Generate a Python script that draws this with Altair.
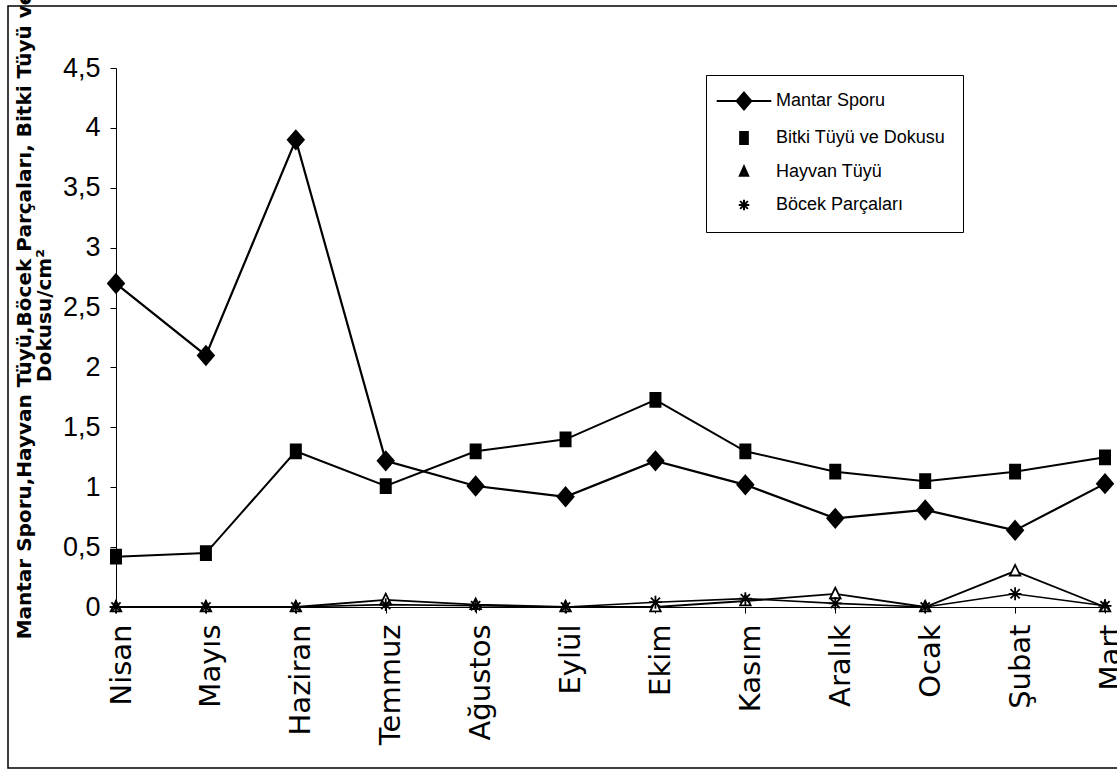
import altair as alt
import pandas as pd

# Monthly counts per cm² for the four particle types
months = ["Nisan", "Mayıs", "Haziran", "Temmuz", "Ağustos", "Eylül",
          "Ekim", "Kasım", "Aralık", "Ocak", "Şubat", "Mart"]
series_names = ["Mantar Sporu", "Bitki Tüyü ve Dokusu", "Hayvan Tüyü", "Böcek Parçaları"]

mantar_sporu = [2.70, 2.10, 3.90, 1.22, 1.01, 0.92, 1.22, 1.02, 0.74, 0.81, 0.64, 1.03]
bitki_tuyu = [0.42, 0.45, 1.30, 1.01, 1.30, 1.40, 1.73, 1.30, 1.13, 1.05, 1.13, 1.25]
hayvan_tuyu = [0.00, 0.00, 0.00, 0.06, 0.02, 0.00, 0.00, 0.05, 0.11, 0.00, 0.30, 0.00]
bocek_parcalari = [0.00, 0.00, 0.00, 0.02, 0.01, 0.00, 0.04, 0.07, 0.03, 0.00, 0.11, 0.01]

y_ticks = [0, 0.5, 1, 1.5, 2, 2.5, 3, 3.5, 4, 4.5]
y_title = ["Mantar Sporu,Hayvan Tüyü,Böcek Parçaları, Bitki Tüyü ve", "Dokusu/cm²"]

rows = []
for name, vals in zip(series_names, [mantar_sporu, bitki_tuyu, hayvan_tuyu, bocek_parcalari]):
    for m, v in zip(months, vals):
        rows.append({"month": m, "series": name, "value": v})
df = pd.DataFrame(rows)

# marker outlines (unit square -1..1, scaled by sqrt(size)/2)
plot_shapes = [
    "M 0 -1.1 L 0.95 0 L 0 1.1 L -0.95 0 Z",
    "M -0.6 -0.82 H 0.6 V 0.82 H -0.6 Z",
    "M 0 -0.72 L 0.62 0.52 L -0.62 0.52 Z",
    "M -0.76 0 L 0.76 0 M 0 -0.76 L 0 0.76 M -0.54 -0.54 L 0.54 0.54 M -0.54 0.54 L 0.54 -0.54",
]
# legend glyphs are stroked only, so solid shapes are built from nested outlines
legend_shapes = [
    "M -3.9 0 L 3.9 0 "
    "M 0 -1.2 L 1.05 0 L 0 1.2 L -1.05 0 Z "
    "M 0 -0.9 L 0.79 0 L 0 0.9 L -0.79 0 Z "
    "M 0 -0.6 L 0.52 0 L 0 0.6 L -0.52 0 Z "
    "M 0 -0.3 L 0.26 0 L 0 0.3 L -0.26 0 Z",
    "M -0.55 -0.85 H 0.55 V 0.85 H -0.55 Z "
    "M -0.27 -0.85 V 0.85 M 0 -0.85 V 0.85 M 0.27 -0.85 V 0.85",
    "M 0 -0.8 L 0.6 0.55 L -0.6 0.55 Z M 0 -0.3 L 0.25 0.35 L -0.25 0.35 Z",
    "M -0.75 0 L 0.75 0 M 0 -0.75 L 0 0.75 M -0.55 -0.55 L 0.55 0.55 M -0.55 0.55 L 0.55 -0.55",
]

x_enc = alt.X(
    "month:N",
    sort=months,
    scale=alt.Scale(domain=months, type="point", padding=0),
    axis=alt.Axis(
        title=None, labelAngle=270, labelFont="DejaVu Sans", labelFontSize=29,
        labelColor="black", labelPadding=11, labelOffset=5, tickSize=6,
        tickColor="black", domainColor="black", labelOverlap=False,
        labelBound=False, labelFlush=False,
    ),
)
y_enc = alt.Y(
    "value:Q",
    scale=alt.Scale(domain=[0, 4.5], nice=False),
    axis=alt.Axis(
        values=y_ticks, grid=False,
        labelExpr="replace(toString(datum.value), '.', ',')",
        labelFont="Liberation Sans", labelFontSize=27, labelColor="black",
        labelPadding=10, tickSize=6, tickColor="black", domainColor="black",
        title=y_title, titleFont="DejaVu Sans", titleFontWeight="bold",
        titleFontSize=20, titleColor="black", titleAngle=270,
        titleAlign="center", titleBaseline="top", titleLineHeight=20,
        titleX=-102, titleY=247,
    ),
)

lines = alt.Chart(df).mark_line(color="black").encode(
    x=x_enc,
    y=y_enc,
    detail="series:N",
    strokeWidth=alt.StrokeWidth(
        "series:N", scale=alt.Scale(domain=series_names, range=[2.2, 1.6, 1.5, 1.5]), legend=None
    ),
)

points = alt.Chart(df).mark_point(size=289, strokeWidth=1.8, opacity=1).encode(
    x=alt.X("month:N", sort=months),
    y="value:Q",
    shape=alt.Shape("series:N", scale=alt.Scale(domain=series_names, range=plot_shapes), legend=None),
    fill=alt.Fill("series:N", scale=alt.Scale(domain=series_names, range=["black", "black", "white", "black"]), legend=None),
    stroke=alt.value("black"),
)

legend_layer = alt.Chart(df).transform_filter("datum.value < -1").mark_point(
    filled=False, color="black", size=196, strokeWidth=2, opacity=1
).encode(
    x=alt.X("month:N", sort=months),
    y="value:Q",
    shape=alt.Shape(
        "series:N",
        scale=alt.Scale(domain=series_names, range=legend_shapes),
        legend=alt.Legend(
            title=None, orient="none", legendX=590, legendY=7, padding=17,
            strokeColor="black", fillColor="white",
            labelFont="Liberation Sans", labelFontSize=18, labelColor="black",
            symbolSize=196, symbolStrokeColor="black", symbolStrokeWidth=2,
            symbolOpacity=1, symbolOffset=12, labelOffset=23, rowPadding=14,
            labelLimit=400,
        ),
    ),
)

frame = alt.Chart(pd.DataFrame({"k": [0]})).mark_rect(
    fillOpacity=0, stroke="black", strokeWidth=1.5
).encode(
    x=alt.value(-108), x2=alt.value(1030), y=alt.value(-62), y2=alt.value(700)
)

chart = alt.layer(frame, lines, points, legend_layer).resolve_scale(
    shape="independent", fill="independent"
).resolve_legend(shape="independent").properties(
    width=989,
    height=539,
    padding={"left": 116, "top": 68, "right": 12, "bottom": 164},
    autosize=alt.AutoSizeParams(type="none"),
    background="white",
).configure_view(stroke=None)

chart.save("out.html", embed_options={"renderer": "svg", "actions": False})
